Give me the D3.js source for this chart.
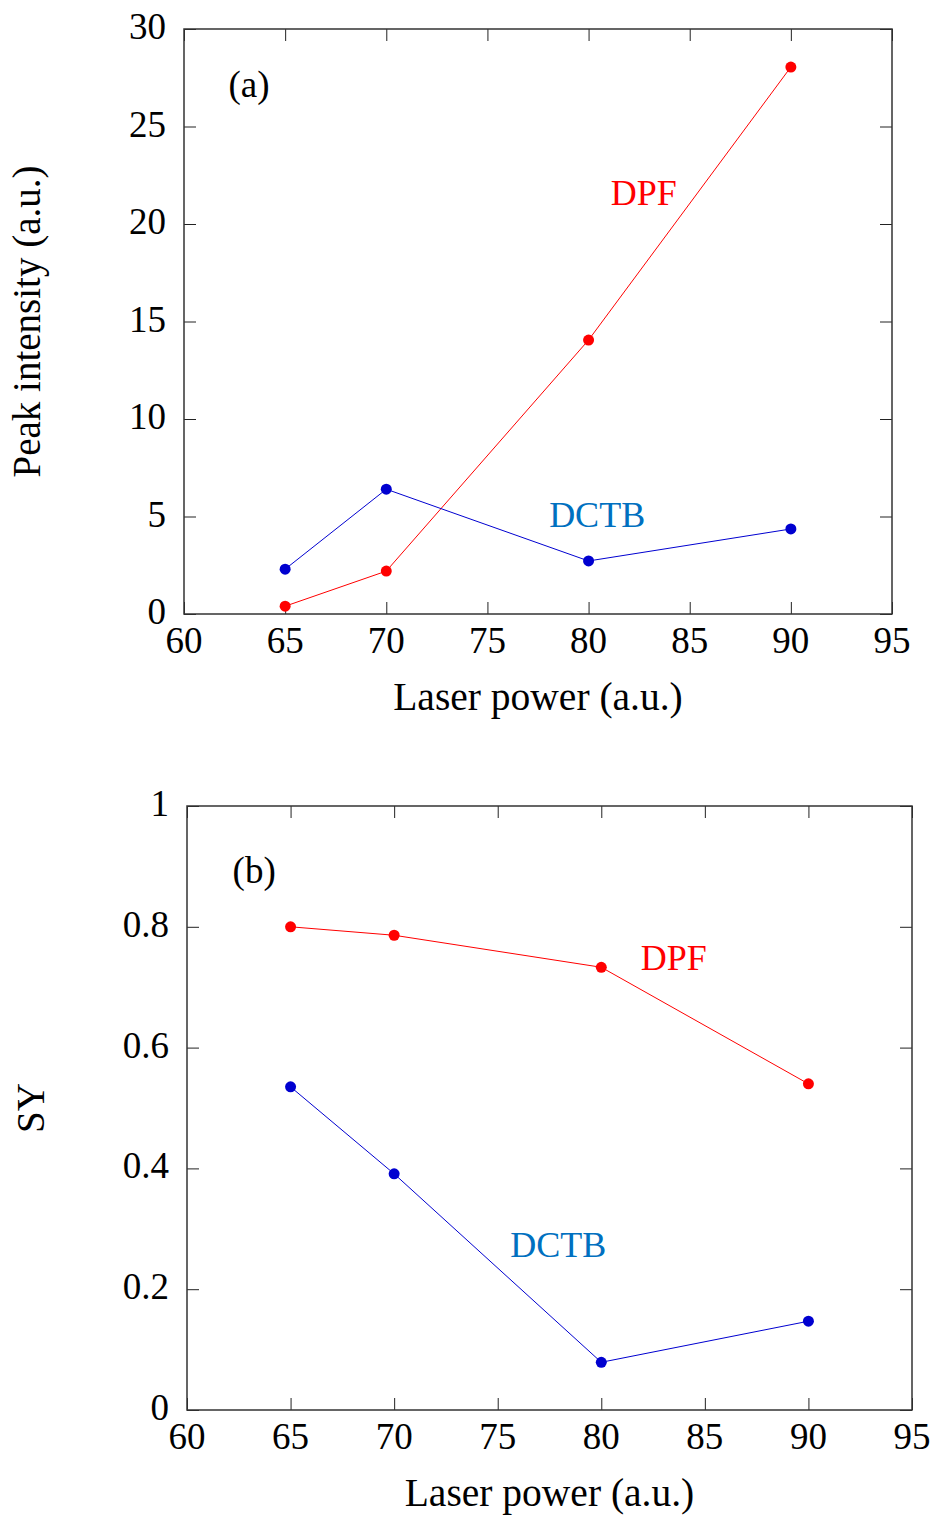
<!DOCTYPE html>
<html>
<head>
<meta charset="utf-8">
<script src="https://cdn.jsdelivr.net/npm/d3@7"></script>
<style>
  body { margin: 0; background: #fff; }
  svg text { font-family: "Liberation Serif", "Times New Roman", serif; }
</style>
</head>
<body>
<svg id="chart" width="932" height="1519"></svg>
<script>
// laser power settings
const power = [65, 70, 80, 90];

// panel (a): peak intensity
const dpfPeak = [0.4, 2.2, 14.05, 28.05];
const dctbPeak = [2.3, 6.4, 2.72, 4.36];

// panel (b): SY
const dpfSY = [0.800, 0.786, 0.733, 0.540];
const dctbSY = [0.535, 0.391, 0.079, 0.147];

const xTicks = [60, 65, 70, 75, 80, 85, 90, 95];
const yTicksA = [0, 5, 10, 15, 20, 25, 30];
const yTicksB = [0, 0.2, 0.4, 0.6, 0.8, 1];

const RED = "#ff0000", BLUE = "#0000d0", LABELBLUE = "#0070c0";

const svg = d3.select("#chart");

function panel(cfg) {
  const x = d3.scaleLinear().domain([60, 95]).range([cfg.left, cfg.right]);
  const y = d3.scaleLinear().domain(cfg.yDomain).range([cfg.bottom, cfg.top]);
  const g = svg.append("g");
  const tick = 12;

  // inward ticks on all four sides
  const axB = d3.axisBottom(x).tickValues(xTicks).tickSize(-tick).tickFormat("");
  const axT = d3.axisTop(x).tickValues(xTicks).tickSize(-tick).tickFormat("");
  const axL = d3.axisLeft(y).tickValues(cfg.yTicks).tickSize(-tick).tickFormat("");
  const axR = d3.axisRight(y).tickValues(cfg.yTicks).tickSize(-tick).tickFormat("");
  [[axB, `translate(0,${cfg.bottom})`], [axT, `translate(0,${cfg.top})`],
   [axL, `translate(${cfg.left},0)`], [axR, `translate(${cfg.right},0)`]].forEach(([ax, t]) => {
    const a = g.append("g").attr("transform", t).call(ax);
    a.select(".domain").remove();
    a.selectAll("line").attr("stroke", "#222").attr("stroke-width", 1);
  });

  // frame
  g.append("rect")
    .attr("x", cfg.left).attr("y", cfg.top)
    .attr("width", cfg.right - cfg.left).attr("height", cfg.bottom - cfg.top)
    .attr("fill", "none").attr("stroke", "#333").attr("stroke-width", 1.5);

  // tick labels
  g.selectAll(".xl").data(xTicks).join("text")
    .attr("x", d => x(d)).attr("y", cfg.bottom + 39)
    .attr("text-anchor", "middle").attr("font-size", 37).text(d => d);
  g.selectAll(".yl").data(cfg.yTicks).join("text")
    .attr("x", cfg.left - 18).attr("y", d => y(d) + 10)
    .attr("text-anchor", "end").attr("font-size", 37).text(cfg.yFmt);

  // axis titles
  g.append("text")
    .attr("x", (cfg.left + cfg.right) / 2).attr("y", cfg.bottom + 96)
    .attr("text-anchor", "middle").attr("font-size", 39.5).text("Laser power (a.u.)");
  g.append("text")
    .attr("transform", `translate(${cfg.yTitleX},${(cfg.top + cfg.bottom) / 2}) rotate(-90)`)
    .attr("text-anchor", "middle").attr("font-size", 39).text(cfg.yTitle);

  const line = d3.line().x((d, i) => x(power[i])).y(d => y(d));
  cfg.series.forEach(s => {
    g.append("path").datum(s.values).attr("d", line)
      .attr("fill", "none").attr("stroke", s.color).attr("stroke-width", 1);
    g.selectAll(null).data(s.values).join("circle")
      .attr("cx", (d, i) => x(power[i])).attr("cy", d => y(d))
      .attr("r", 5.5).attr("fill", s.color);
    g.append("text").attr("x", x(s.lx)).attr("y", y(s.ly))
      .attr("font-size", 36).attr("fill", s.labelColor).text(s.name);
  });

  g.append("text").attr("x", x(cfg.tag[0])).attr("y", y(cfg.tag[1]))
    .attr("font-size", 37).text(cfg.tag[2]);
}

panel({
  left: 184, right: 892, top: 29, bottom: 614,
  yDomain: [0, 30], yTicks: yTicksA, yFmt: d => d,
  yTitle: "Peak intensity (a.u.)", yTitleX: 40,
  tag: [62.2, 26.5, "(a)"],
  series: [
    { name: "DPF", values: dpfPeak, color: RED, labelColor: RED, lx: 81.1, ly: 21.0 },
    { name: "DCTB", values: dctbPeak, color: BLUE, labelColor: LABELBLUE, lx: 78.05, ly: 4.46 }
  ]
});

panel({
  left: 187, right: 912, top: 806, bottom: 1410,
  yDomain: [0, 1], yTicks: yTicksB, yFmt: d => d,
  yTitle: "SY", yTitleX: 44,
  tag: [62.2, 0.873, "(b)"],
  series: [
    { name: "DPF", values: dpfSY, color: RED, labelColor: RED, lx: 81.9, ly: 0.728 },
    { name: "DCTB", values: dctbSY, color: BLUE, labelColor: LABELBLUE, lx: 75.6, ly: 0.253 }
  ]
});
</script>
</body>
</html>
